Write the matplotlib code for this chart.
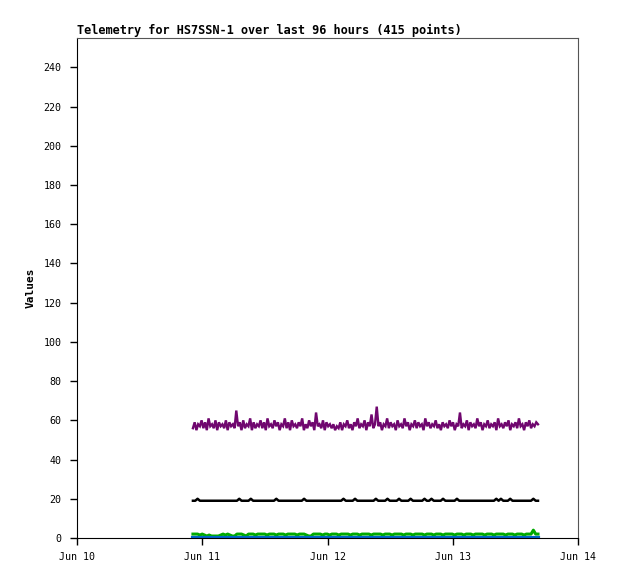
import numpy as np
import pandas as pd
import matplotlib as mpl
mpl.use('Agg')
import matplotlib.pyplot as plt
import matplotlib.dates as mdates

# time span of the samples
t_start = '2024-06-10 22:13'
t_end = '2024-06-13 16:20'
x_lo = '2024-06-10'
x_hi = '2024-06-14'

purple_vals = [
    56, 59, 55, 58, 57, 60, 56, 59, 55, 61, 57, 58, 56, 60, 55, 59, 57, 58, 56, 60,
    55, 59, 57, 58, 56, 65, 57, 59, 55, 60, 56, 58, 57, 61, 55, 59, 56, 58, 57, 60,
    56, 59, 55, 61, 57, 58, 56, 60, 57, 59, 55, 58, 57, 61, 56, 59, 55, 60, 57, 58,
    56, 59, 57, 61, 55, 58, 56, 60, 57, 59, 55, 64, 57, 58, 56, 60, 55, 59, 57, 58,
    56, 58, 55, 57, 56, 59, 55, 58, 57, 60, 56, 58, 55, 59, 57, 61, 56, 58, 57, 60,
    55, 59, 57, 63, 56, 58, 67, 57, 59, 55, 58, 57, 61, 56, 59, 57, 58, 55, 60, 57,
    58, 56, 61, 57, 59, 55, 58, 57, 60, 56, 59, 57, 58, 55, 61, 57, 59, 56, 58, 57,
    60, 56, 58, 55, 59, 57, 58, 56, 60, 57, 59, 55, 58, 57, 64, 56, 58, 57, 60, 55,
    59, 57, 58, 56, 61, 57, 59, 55, 58, 57, 60, 56, 58, 57, 59, 55, 61, 57, 58, 56,
    59, 57, 60, 55, 58, 57, 59, 56, 61, 57, 58, 55, 59, 57, 60, 56, 58, 57, 59, 58,
]

black_vals = [
    19, 19, 20, 19, 19, 19, 19, 19, 19, 19, 19, 19, 19, 19, 19, 19, 19, 19, 19, 19,
    20, 19, 19, 19, 19, 20, 19, 19, 19, 19, 19, 19, 19, 19, 19, 19, 20, 19, 19, 19,
    19, 19, 19, 19, 19, 19, 19, 19, 20, 19, 19, 19, 19, 19, 19, 19, 19, 19, 19, 19,
    19, 19, 19, 19, 19, 20, 19, 19, 19, 19, 20, 19, 19, 19, 19, 19, 19, 19, 19, 20,
    19, 19, 19, 19, 20, 19, 19, 19, 19, 20, 19, 19, 19, 19, 20, 19, 19, 19, 19, 19,
    20, 19, 19, 20, 19, 19, 19, 19, 20, 19, 19, 19, 19, 19, 20, 19, 19, 19, 19, 19,
    19, 19, 19, 19, 19, 19, 19, 19, 19, 19, 19, 20, 19, 20, 19, 19, 19, 20, 19, 19,
    19, 19, 19, 19, 19, 19, 19, 20, 19, 19,
]

green_vals = [
    2, 2, 2, 1.5, 2, 1.5, 1, 1.5, 1, 1, 1, 1, 1.5, 2, 1.5, 2, 1.5, 1, 1, 2,
    2, 2, 1.5, 1, 2, 2, 2, 1.5, 2, 2, 2, 2, 1.5, 2, 2, 2, 1.5, 2, 2, 2,
    1.5, 2, 2, 2, 2, 1.5, 2, 2, 2, 1.5, 1, 1, 2, 2, 2, 2, 1.5, 2, 2, 1.5,
    2, 2, 2, 1.5, 2, 2, 2, 2, 1.5, 2, 2, 2, 1.5, 2, 2, 2, 2, 1.5, 2, 2,
    2, 2, 1.5, 2, 2, 2, 1.5, 2, 2, 2, 2, 1.5, 2, 2, 2, 1.5, 2, 2, 2, 2,
    1.5, 2, 2, 2, 1.5, 2, 2, 2, 1.5, 2, 2, 2, 2, 1.5, 2, 2, 2, 1.5, 2, 2,
    2, 1.5, 2, 2, 2, 2, 1.5, 2, 2, 2, 1.5, 2, 2, 2, 2, 1.5, 2, 2, 2, 1.5,
    2, 2, 2, 1.5, 2, 2, 2, 4, 2, 2,
]

blue_vals = [0] * 150

mono = 'DejaVu Sans Mono'
fig = plt.figure(figsize=(6.18, 5.79), dpi=100)
ax = fig.add_axes([77 / 618, 41 / 579, 501 / 618, 500 / 579])


def times_for(vals):
    return pd.date_range(t_start, t_end, periods=len(vals))


ax.plot(times_for(purple_vals), purple_vals, color='#70076f', lw=1.7,
        solid_joinstyle='miter')
ax.plot(times_for(black_vals), black_vals, color='black', lw=1.8)
ax.plot(times_for(green_vals), green_vals, color='#00aa00', lw=2.2, zorder=2)
ax.plot(times_for(blue_vals), blue_vals, color='#0066cc', lw=3.0, zorder=2.1)

ax.set_xlim(pd.Timestamp(x_lo), pd.Timestamp(x_hi))
ax.set_ylim(0, 255)
ax.set_yticks(np.arange(0, 241, 20))
ax.xaxis.set_major_locator(mdates.DayLocator())
ax.xaxis.set_major_formatter(mdates.DateFormatter('%b %d'))

ax.tick_params(direction='out', length=5, width=1, pad=6, colors='black')
ax.tick_params(axis='x', pad=5)
for lbl in ax.get_xticklabels() + ax.get_yticklabels():
    lbl.set_fontfamily(mono)
    lbl.set_fontsize(7.2)

for s in ['top', 'right']:
    ax.spines[s].set_color('#555555')
for s in ['left', 'bottom']:
    ax.spines[s].set_color('black')

ax.set_ylabel('Values', fontfamily=mono, fontweight='bold', fontsize=8, labelpad=6)
ax.set_title('Telemetry for HS7SSN-1 over last 96 hours (415 points)',
             loc='left', fontfamily=mono, fontweight='bold', fontsize=8.55, pad=3)

fig.savefig('out.png')
